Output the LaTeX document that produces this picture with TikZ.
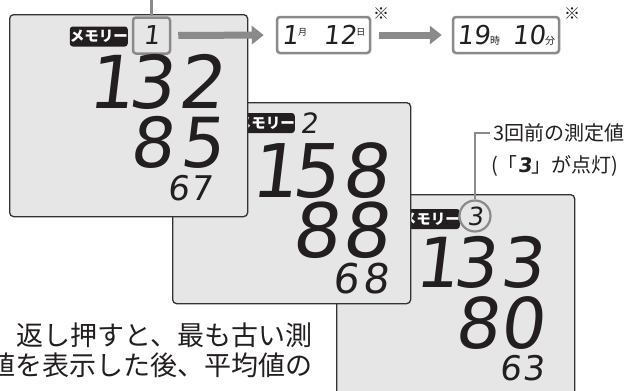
\documentclass[tikz,border=0pt]{standalone}
\usepackage{fontspec}
\usetikzlibrary{arrows.meta}
\newfontfamily\jp{Noto Sans CJK JP}
\newfontfamily\lcd{DejaVu Sans}[FakeSlant=0.12]
\newcommand\lcdcell[2]{\makebox[#1][r]{#2}}
\newcommand\lcdone[2]{\makebox[#1][r]{1\kern-#2}}
\definecolor{panelbg}{HTML}{E6E6E6}
\definecolor{edge}{HTML}{333333}
\definecolor{accent}{HTML}{8A8A8A}
\definecolor{ink}{HTML}{231F20}
\tikzset{
  panel/.style={draw=edge, fill=panelbg, line width=1.3pt, rounded corners=4pt,
    anchor=north west, inner sep=0pt, minimum width=238pt, minimum height=#1},
  memlabel/.style={fill=ink, text=white, rounded corners=3pt, inner sep=0pt,
    minimum width=55pt, minimum height=20pt, anchor=east,
    font=\jp\bfseries\fontsize{14.5}{14.5}\selectfont},
  lcdrow/.style={inner sep=0pt, anchor=base east, text=ink,
    font=\lcd\fontsize{#1}{#1}\selectfont},
  memdigit/.style={inner sep=0pt, text=ink, font=\lcd\fontsize{#1}{#1}\selectfont},
  accentbox/.style={draw=accent, line width=2.5pt, rounded corners=3pt, inner sep=0pt,
    text=ink},
  accentline/.style={draw=accent, line width=2.5pt},
  fatarrow/.style={draw=accent, line width=7pt, -{Triangle[length=12pt,width=18pt]}},
  jptext/.style={inner sep=0pt, text=ink, font=\jp\fontsize{#1}{#1}\selectfont},
}
\begin{document}
\begin{tikzpicture}[x=1pt,y=-1pt]
\useasboundingbox (0,0) rectangle (643,391);
\clip (0,0) rectangle (643,391);
\fill[white] (0,0) rectangle (643,391);

% ---- panel 3 (back) ----
\node[panel=230pt] (p3) at (336,194) {};
\node[memlabel] (l3) at (460,219) {メモリー};
\node[circle, draw=accent, line width=2.2pt, minimum size=31pt, inner sep=0pt,
  text=ink, font=\lcd\fontsize{25}{25}\selectfont] (c3) at (475,216) {3};
\node[lcdrow=69] (p3r1) at (544,287) {\lcdone{47pt}{9pt}\lcdcell{47pt}{3}\lcdcell{47pt}{3}};
\node[lcdrow=70] (p3r2) at (544,348) {\lcdcell{45pt}{8}\lcdcell{45pt}{0}};
\node[lcdrow=34] (p3r3) at (544,380) {\lcdcell{23pt}{6}\lcdcell{23pt}{3}};

% ---- panel 2 ----
\node[panel=201pt] (p2) at (172,102) {};
\node[memlabel] (l2) at (295,123) {メモリー};
\node[memdigit=28, anchor=base] (d2) at (309,133) {2};
\node[lcdrow=74] (p2r1) at (389,197) {\lcdone{50pt}{9pt}\lcdcell{50pt}{5}\lcdcell{50pt}{8}};
\node[lcdrow=75] (p2r2) at (389,257) {\lcdcell{50pt}{8}\lcdcell{50pt}{8}};
\node[lcdrow=41] (p2r3) at (389,293) {\lcdcell{30pt}{6}\lcdcell{30pt}{8}};

% ---- panel 1 (front) ----
\node[panel=202pt] (p1) at (9,14) {};
\node[memlabel] (l1) at (128,36.5) {メモリー};
\node[accentbox, minimum width=37pt, minimum height=36pt,
  font=\lcd\fontsize{26}{26}\selectfont] (m1) at (151.5,35.5) {1};
\node[lcdrow=73] (p1r1) at (224,108) {\lcdone{50pt}{10pt}\lcdcell{50pt}{3}\lcdcell{50pt}{2}};
\node[lcdrow=69] (p1r2) at (224,167) {\lcdcell{50pt}{8}\lcdcell{50pt}{5}};
\node[lcdrow=34] (p1r3) at (212,200) {\lcdcell{23pt}{6}\lcdcell{23pt}{7}};

% ---- date and time ----
\node[accentbox, minimum width=93pt, minimum height=36pt] (date) at (323.5,35)
  {{\lcd\fontsize{26}{26}\selectfont 1}\raisebox{9pt}{\jp\fontsize{9}{9}\selectfont 月}\hspace{16pt}{\lcd\fontsize{26}{26}\selectfont 12}\raisebox{9pt}{\jp\fontsize{9}{9}\selectfont 日}};
\node[accentbox, minimum width=106pt, minimum height=36pt] (time) at (506,35)
  {{\lcd\fontsize{26}{26}\selectfont 19}{\jp\fontsize{10}{10}\selectfont 時}\hspace{12pt}{\lcd\fontsize{26}{26}\selectfont 10}{\jp\fontsize{10}{10}\selectfont 分}};
\node[jptext=16] (ast1) at (381,14) {※};
\node[jptext=16] (ast2) at (572,14) {※};

\coordinate (topend) at (151.5,0);
\draw[accentline] (m1.north) -- (topend);
\draw[fatarrow, shorten <=7pt, shorten >=12pt] (m1.east) -- (date.west);
\draw[fatarrow, shorten <=8pt, shorten >=10pt] (date.east) -- (time.west);

% ---- callout ----
\node[jptext=20, anchor=west] (lbl) at (493,133) {3回前の測定値};
\node[jptext=20, anchor=west] (lbl2) at (491,166) {(「{\lcd\bfseries 3}」が点灯)};
\draw[accentline, shorten >=3pt] (c3.north) |- (lbl.west);

% ---- bottom text ----
\node[jptext=27, anchor=east] (t1) at (313,335) {返し押すと、最も古い測};
\node[jptext=27, anchor=east] (t2) at (313,365) {値を表示した後、平均値の};
\end{tikzpicture}
\end{document}
